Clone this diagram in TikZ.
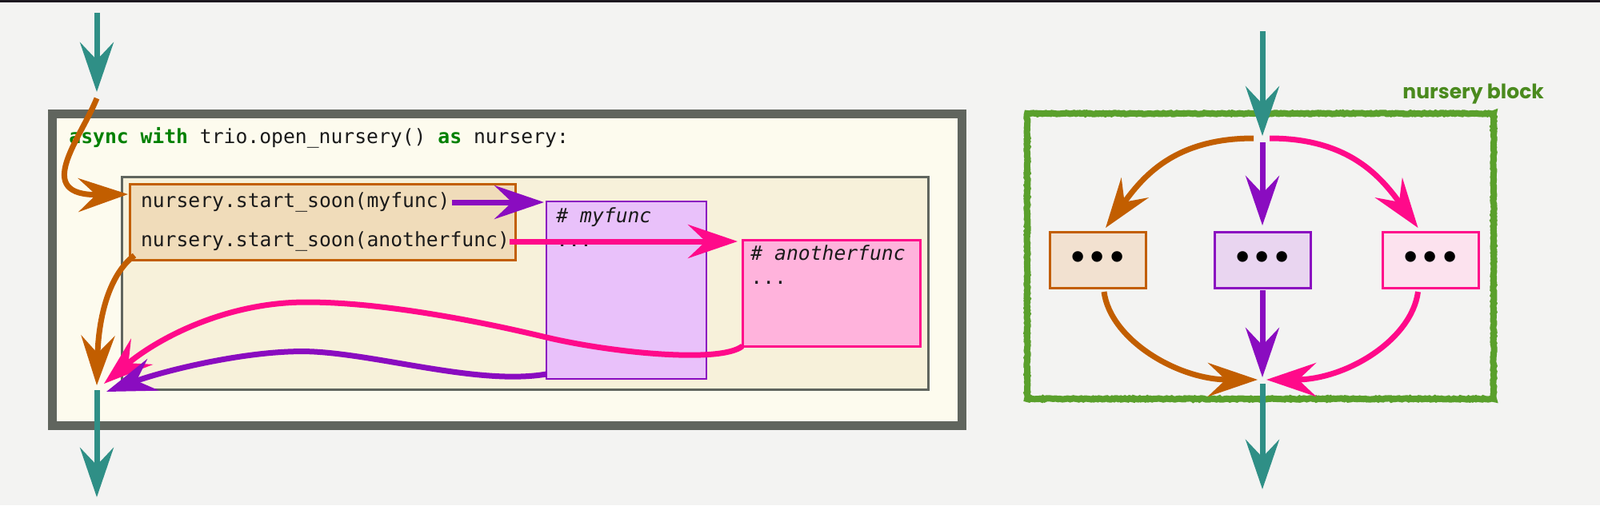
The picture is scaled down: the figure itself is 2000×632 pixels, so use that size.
\documentclass[tikz,border=0pt]{standalone}
\usepackage{fontspec}
\setsansfont{Poppins}
\newfontfamily\codefont{DejaVu Sans Mono}
\newfontfamily\dotfont{DejaVu Sans}
\usetikzlibrary{positioning,arrows.meta,decorations.pathmorphing}

\definecolor{bgpaper}{HTML}{F3F3F2}
\definecolor{topbar}{HTML}{1C1820}
\definecolor{frame}{HTML}{60655E}
\definecolor{outerfill}{HTML}{FDFBEE}
\definecolor{innerfill}{HTML}{F7F1DA}
\definecolor{codeblack}{HTML}{1A1A1A}
\definecolor{kwgreen}{HTML}{008000}
\definecolor{flowteal}{HTML}{2F8F86}
\definecolor{orng}{HTML}{C25E00}
\definecolor{prpl}{HTML}{8A0CC0}
\definecolor{pnk}{HTML}{FF0A8A}
\definecolor{callfill}{HTML}{F0DCBA}
\definecolor{myfuncfill}{HTML}{E9C1FA}
\definecolor{anotherfill}{HTML}{FFB3DC}
\definecolor{taskAfill}{HTML}{F2E1D0}
\definecolor{taskBfill}{HTML}{E9D5F0}
\definecolor{taskCfill}{HTML}{FCE2EE}
\definecolor{blockgreen}{HTML}{5AA02C}
\definecolor{labelgreen}{HTML}{4A8A1E}

\begin{document}
\begin{tikzpicture}[x=0.5pt, y=-0.5pt,
        >={Stealth[length=31pt, width=21pt, inset=11pt]},
        flow/.style = {->, line width=3.5pt},
        code/.style = {
            font=\codefont\fontsize{12.35pt}{15pt}\selectfont,
            text=codeblack,
            inner sep=0pt
        },
        box/.style = {draw, inner sep=0pt, outer sep=0pt},
        task/.style = {
            box,
            line width=1.5pt,
            minimum width=60pt,
            minimum height=35pt,
            font=\dotfont\bfseries\fontsize{19pt}{20pt}\selectfont
        },
        node distance=43pt]

        \fill[bgpaper] (0,0) rectangle (2000,632);
        \fill[topbar] (0,0) rectangle (2000,3);
        \useasboundingbox (0,0) rectangle (2000,632);

        \node[box, line width=5.5pt, draw=frame, fill=outerfill, minimum width=568.5pt, minimum height=194.75pt] (nursery) at (633.5,337.25) {};
        \node[code, anchor=base west] (withline) at (86,179) {{\color{kwgreen}\bfseries async with} trio.open\_nursery() {\color{kwgreen}\bfseries as} nursery:};
        \node[box, line width=1.5pt, draw=frame, fill=innerfill, minimum width=504pt, minimum height=133pt] (body) at (656,354) {};
        \node[box, code, line width=1.5pt, draw=orng, fill=callfill, minimum width=241pt, minimum height=47.75pt,
            align=left, text width=227pt, font=\codefont\fontsize{12.35pt}{24.5pt}\selectfont] (calls) at (403,277.75)
            {nursery.start\_soon(myfunc)\\nursery.start\_soon(anotherfunc)};
        \node[box, line width=1pt, draw=prpl, fill=myfuncfill, minimum width=100pt, minimum height=111pt] (myfunc) at (783,363) {};
        \node[code, anchor=north west, align=left] (myfuncBody) at ([xshift=6pt, yshift=-3.6pt]myfunc.north west) {\textit{\# myfunc}\\...};
        \node[box, line width=1.5pt, draw=pnk, fill=anotherfill, minimum width=111pt, minimum height=66.5pt] (another) at (1039,366.5) {};
        \node[code, anchor=north west, align=left] (anotherBody) at ([xshift=5pt, yshift=-3pt]another.north west) {\textit{\# anotherfunc}\\...};

        \coordinate (enter) at (121,16);
        \coordinate (entered) at (121,115);
        \coordinate (spawnStart) at (121,123);
        \coordinate (callA) at (565,253);
        \coordinate (callB) at (637,302);
        \coordinate (doneA) at (121,482);
        \coordinate (doneB) at (130,480);
        \coordinate (doneC) at (133,490);
        \coordinate (leave) at (121,488);
        \coordinate (gone) at (121,622);

        \draw[flow, flowteal] (enter) -- (entered);
        \draw[flow, orng] (spawnStart) .. controls +(-21,52) and +(-120,2) .. ([xshift=-1pt, yshift=-6.5pt]calls.north west);
        \draw[flow, prpl, shorten >=1.5pt] (callA) -- (callA -| myfunc.west);
        \draw[flow, pnk, shorten >=3pt] (callB) -- (callB -| another.west);
        \draw[flow, orng] ([xshift=3pt, yshift=3pt]calls.south west) .. controls +(-33,25) and +(2,-82) .. (doneA);
        \draw[flow, pnk] (another.south west) .. controls (900,455) and (763,441) .. (683,422)
            .. controls (583,398) and (470,378) .. (383,378)
            .. controls (280,378) and (195,425) .. (doneB);
        \draw[flow, prpl] ([yshift=3pt]myfunc.south west) .. controls (600,482) and (480,445) .. (393,440)
            .. controls (320,436) and (210,462) .. (doneC);
        \draw[flow, flowteal] (leave) -- (gone);

        \node[box, line width=4pt, draw=blockgreen, decorate, decoration={random steps, segment length=1pt, amplitude=0.35pt},
            minimum width=291.5pt, minimum height=178.5pt] (block) at (1575.5,320.5) {};
        \node[font=\sffamily\bfseries\fontsize{12.5pt}{14pt}\selectfont, text=labelgreen, anchor=base west, inner sep=0pt] (blockLabel) at (1753,123) {nursery block};

        \node[task, draw=orng, fill=taskAfill] (taskA) at (1372,325) {•••};
        \node[task, draw=prpl, fill=taskBfill, right=of taskA] (taskB) {•••};
        \node[task, draw=pnk, fill=taskCfill, right=45pt of taskB] (taskC) {•••};

        \coordinate (forkTop) at (1578,39);
        \coordinate (fork) at (1578,173);
        \coordinate (merge) at (1578,475);
        \coordinate (mergeEnd) at (1578,612);

        \draw[flow, flowteal] (forkTop) -- ([yshift=1.5pt]fork);
        \draw[flow, orng] ([xshift=-5.5pt]fork) .. controls +(-100,0) and +(46,-63) .. ([xshift=5pt, yshift=2.5pt]taskA.north);
        \draw[flow, prpl] ([yshift=-2.5pt]fork) -- ([yshift=4pt]taskB.north);
        \draw[flow, pnk] ([xshift=4.5pt]fork) .. controls +(100,0) and +(-46,-63) .. ([xshift=-7.75pt, yshift=2.5pt]taskC.north);
        \draw[flow, orng] ([xshift=4pt, yshift=-2.5pt]taskA.south) .. controls +(8,60) and +(-100,0) .. ([xshift=-3pt]merge);
        \draw[flow, prpl] ([yshift=-1.5pt]taskB.south) -- ([yshift=1.5pt]merge);
        \draw[flow, pnk] ([xshift=-7.75pt, yshift=-2.5pt]taskC.south) .. controls +(-8,60) and +(100,0) .. ([xshift=2.5pt]merge);
        \draw[flow, flowteal] ([yshift=-2.5pt]merge) -- (mergeEnd);
    \end{tikzpicture}
\end{document}
